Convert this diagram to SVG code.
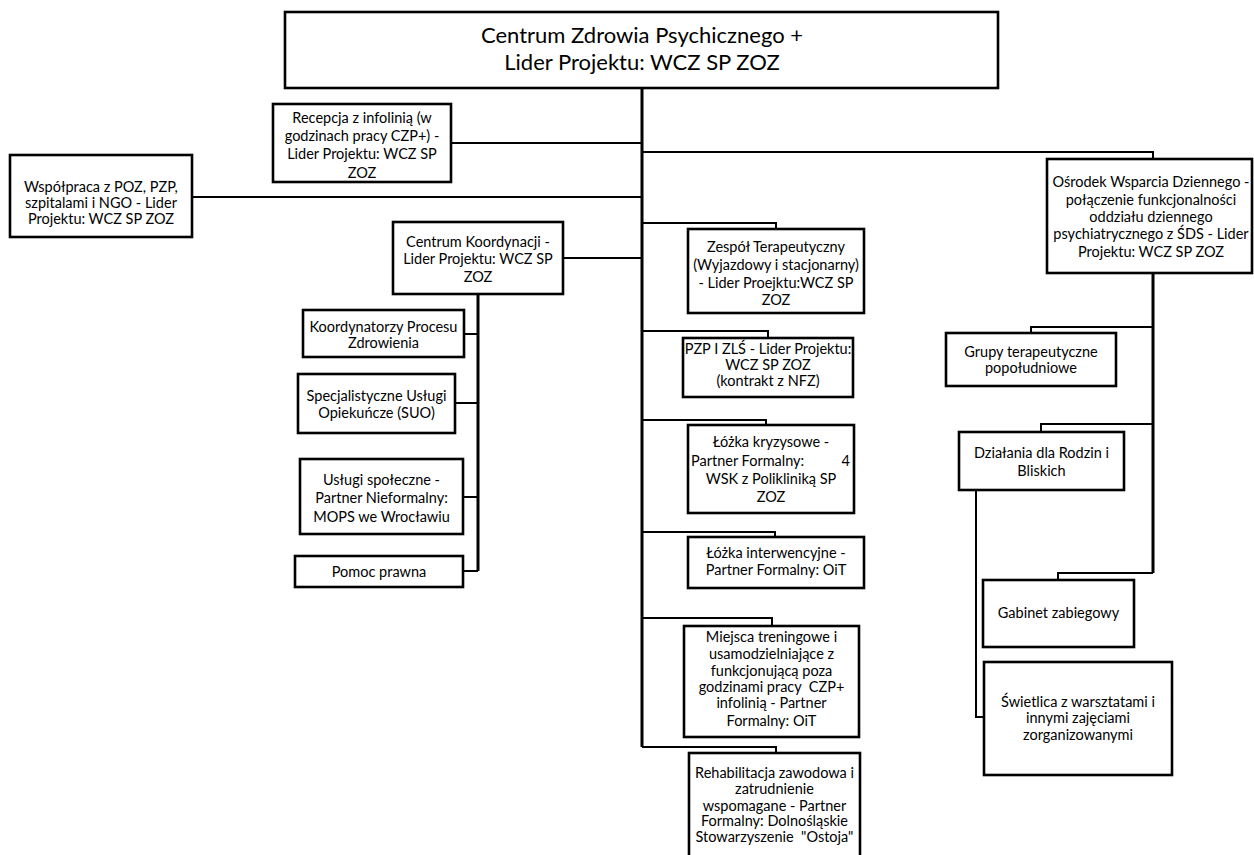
<svg xmlns="http://www.w3.org/2000/svg" width="1254" height="855" viewBox="0 0 1254 855">
<style>
.box{fill:#fff;stroke:#000;stroke-width:2.6}
.t{font-family:Lato,"Liberation Sans",sans-serif;font-size:14.5px;fill:#000;text-anchor:middle;white-space:pre}
.big{font-size:22px}
.c{fill:none;stroke:#000;stroke-width:2}
.trunk{fill:none;stroke:#000;stroke-width:3}
</style>
<rect width="1254" height="855" fill="#fff"/>
<g id="connectors">
<path class="trunk" d="M642 88V747"/>
<path class="c" d="M451 143H642"/>
<path class="c" d="M642 152H1153V159"/>
<path class="c" d="M192 197H642"/>
<path class="c" d="M642 223H776V229"/>
<path class="c" d="M563 258H642"/>
<path class="c" d="M642 331H768V338"/>
<path class="c" d="M642 420H766V425"/>
<path class="c" d="M642 532H775V537"/>
<path class="c" d="M642 618H772V626"/>
<path class="c" d="M642 747H776V753"/>
<path class="trunk" d="M478 294V571"/>
<path class="c" d="M464 334H478M455 403H478M463 497H478M463 571H478"/>
<path class="trunk" d="M1153 273V573"/>
<path class="c" d="M1153 327H1031V333"/>
<path class="c" d="M1153 424H1041V432"/>
<path class="c" d="M1153 573H1058V580"/>
<path class="c" d="M976 490V717H984"/>
</g>
<g id="n-top">
<rect class="box" x="285" y="12" width="713" height="76"/>
<text class="t big" x="642" y="43">Centrum Zdrowia Psychicznego +</text>
<text class="t big" x="642" y="70">Lider Projektu: WCZ SP ZOZ</text>
</g>
<g id="n-recepcja">
<rect class="box" x="273" y="104" width="178" height="78"/>
<text class="t" x="362" y="123">Recepcja z infolinią (w</text>
<text class="t" x="362" y="141">godzinach pracy CZP+) -</text>
<text class="t" x="362" y="159">Lider Projektu: WCZ SP</text>
<text class="t" x="362" y="178">ZOZ</text>
</g>
<g id="n-wspolpraca">
<rect class="box" x="10" y="155" width="182" height="82"/>
<text class="t" x="101" y="192">Współpraca z POZ, PZP,</text>
<text class="t" x="101" y="208">szpitalami i NGO - Lider</text>
<text class="t" x="101" y="224">Projektu: WCZ SP ZOZ</text>
</g>
<g id="n-koordynacja">
<rect class="box" x="393" y="222" width="170" height="72"/>
<text class="t" x="478" y="247">Centrum Koordynacji -</text>
<text class="t" x="478" y="264">Lider Projektu: WCZ SP</text>
<text class="t" x="478" y="282">ZOZ</text>
</g>
<g id="n-koordynatorzy">
<rect class="box" x="303" y="310" width="161" height="47"/>
<text class="t" x="383.5" y="332">Koordynatorzy Procesu</text>
<text class="t" x="383.5" y="348">Zdrowienia</text>
</g>
<g id="n-suo">
<rect class="box" x="298" y="374" width="157" height="59"/>
<text class="t" x="376.5" y="401">Specjalistyczne Usługi</text>
<text class="t" x="376.5" y="418">Opiekuńcze (SUO)</text>
</g>
<g id="n-uslugi">
<rect class="box" x="300" y="459" width="163" height="75"/>
<text class="t" x="381.5" y="485">Usługi społeczne -</text>
<text class="t" x="381.5" y="503">Partner Nieformalny:</text>
<text class="t" x="381.5" y="522">MOPS we Wrocławiu</text>
</g>
<g id="n-pomoc">
<rect class="box" x="295" y="556" width="168" height="31"/>
<text class="t" x="379" y="577">Pomoc prawna</text>
</g>
<g id="n-zespol">
<rect class="box" x="688" y="229" width="176" height="84"/>
<text class="t" x="776" y="252">Zespół Terapeutyczny</text>
<text class="t" x="776" y="270">(Wyjazdowy i stacjonarny)</text>
<text class="t" x="776" y="288">- Lider Proejktu:WCZ SP</text>
<text class="t" x="776" y="305">ZOZ</text>
</g>
<g id="n-pzp">
<rect class="box" x="683" y="338" width="170" height="59"/>
<text class="t" x="768" y="354">PZP I ZLŚ - Lider Projektu:</text>
<text class="t" x="768" y="370">WCZ SP ZOZ</text>
<text class="t" x="768" y="386">(kontrakt z NFZ)</text>
</g>
<g id="n-kryzysowe">
<rect class="box" x="688" y="425" width="166" height="88"/>
<text class="t" x="771" y="447">Łóżka kryzysowe -</text>
<text class="t" x="691" y="466" style="text-anchor:start">Partner Formalny:</text>
<text class="t" x="850" y="466" style="text-anchor:end">4</text>
<text class="t" x="771" y="484">WSK z Polikliniką SP</text>
<text class="t" x="771" y="502">ZOZ</text>
</g>
<g id="n-interwencyjne">
<rect class="box" x="688" y="537" width="176" height="51"/>
<text class="t" x="776" y="558">Łóżka interwencyjne -</text>
<text class="t" x="776" y="575">Partner Formalny: OiT</text>
</g>
<g id="n-miejsca">
<rect class="box" x="684" y="626" width="175" height="111"/>
<text class="t" x="771.5" y="642">Miejsca treningowe i</text>
<text class="t" x="771.5" y="659">usamodzielniające z</text>
<text class="t" x="771.5" y="676">funkcjonującą poza</text>
<text class="t" x="771.5" y="692">godzinami pracy  CZP+</text>
<text class="t" x="771.5" y="708">infolinią - Partner</text>
<text class="t" x="771.5" y="726">Formalny: OiT</text>
</g>
<g id="n-rehabilitacja">
<rect class="box" x="689" y="753" width="171" height="110"/>
<text class="t" x="774.5" y="778">Rehabilitacja zawodowa i</text>
<text class="t" x="774.5" y="794">zatrudnienie</text>
<text class="t" x="774.5" y="811">wspomagane - Partner</text>
<text class="t" x="774.5" y="826">Formalny: Dolnośląskie</text>
<text class="t" x="774.5" y="842">Stowarzyszenie  &quot;Ostoja&quot;</text>
</g>
<g id="n-osrodek">
<rect class="box" x="1047" y="159" width="205" height="114"/>
<text class="t" x="1151" y="187">Ośrodek Wsparcia Dziennego -</text>
<text class="t" x="1151" y="205">połączenie funkcjonalności</text>
<text class="t" x="1151" y="222">oddziału dziennego</text>
<text class="t" x="1151" y="239">psychiatrycznego z ŚDS - Lider</text>
<text class="t" x="1151" y="257">Projektu: WCZ SP ZOZ</text>
</g>
<g id="n-grupy">
<rect class="box" x="946" y="333" width="170" height="53"/>
<text class="t" x="1031" y="357">Grupy terapeutyczne</text>
<text class="t" x="1031" y="373">popołudniowe</text>
</g>
<g id="n-dzialania">
<rect class="box" x="959" y="432" width="165" height="58"/>
<text class="t" x="1041.5" y="458">Działania dla Rodzin i</text>
<text class="t" x="1041.5" y="476">Bliskich</text>
</g>
<g id="n-gabinet">
<rect class="box" x="983" y="580" width="151" height="67"/>
<text class="t" x="1058.5" y="618">Gabinet zabiegowy</text>
</g>
<g id="n-swietlica">
<rect class="box" x="984" y="662" width="188" height="113"/>
<text class="t" x="1078" y="707">Świetlica z warsztatami i</text>
<text class="t" x="1078" y="723">innymi zajęciami</text>
<text class="t" x="1078" y="740">zorganizowanymi</text>
</g>
</svg>
